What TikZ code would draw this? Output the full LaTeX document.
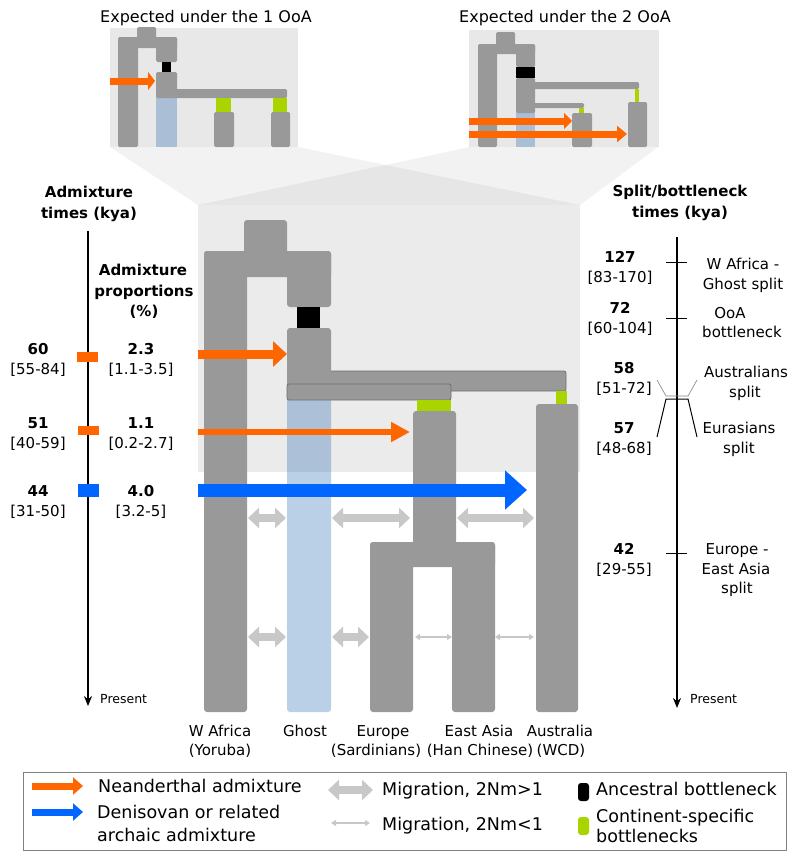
\documentclass[tikz,border=0pt]{standalone}
\usepackage{fontspec}
\setmainfont{DejaVu Sans}
\usetikzlibrary{arrows.meta}
\definecolor{popgray}{RGB}{153,153,153}
\definecolor{ghostblue}{RGB}{28,98,172}
\definecolor{neandorange}{RGB}{255,102,0}
\definecolor{denisblue}{RGB}{0,102,255}
\definecolor{miggray}{RGB}{200,200,200}
\definecolor{bottlegreen}{RGB}{170,212,0}
\definecolor{boxgray}{RGB}{235,235,235}
\definecolor{insetgray}{RGB}{232,232,232}
\definecolor{barline}{RGB}{112,112,112}

\begin{document}
\begin{tikzpicture}[x=1pt, y=-1pt,
    pop/.style={fill=popgray, rounded corners=3pt},
    minipop/.style={fill=popgray, rounded corners=1.5pt},
    popbar/.style={fill=popgray, draw=barline, line width=0.8pt, rounded corners=2pt},
    ghost/.style={fill=ghostblue, fill opacity=0.3, rounded corners=3pt},
    neck/.style={fill=black},
    contneck/.style={fill=bottlegreen},
    zoomband/.style={fill=black, fill opacity=0.05},
    neand/.style={draw=neandorange, line width=#1},
    denis/.style={draw=denisblue, line width=#1},
    migbig/.style={draw=miggray, line width=8pt, {Triangle[length=11pt,width=20pt]}-{Triangle[length=11pt,width=20pt]}},
    migsmall/.style={draw=miggray, line width=1.5pt, {Triangle[length=5pt,width=6pt]}-{Triangle[length=5pt,width=6pt]}},
    axis/.style={line width=1.5pt, -{Stealth[length=10pt,width=8pt]}},
    lbl/.style={font=\fontsize{15}{18}\selectfont, anchor=base, inner sep=0pt},
    num/.style={lbl, font=\fontsize{15}{18}\selectfont\bfseries},
    title/.style={lbl, font=\fontsize{16}{19}\selectfont},
    legtext/.style={font=\fontsize{17.5}{21}\selectfont, anchor=base west, inner sep=0pt},
    present/.style={font=\fontsize{12.5}{15}\selectfont, anchor=base west, inner sep=0pt}
  ]
  \useasboundingbox (0,0) rectangle (800,862);

  % zoom bands and boxes
  \fill[zoomband] (110,147) -- (298,147) -- (580,205) -- (198,205) -- cycle;
  \fill[zoomband] (470,147) -- (658,147) -- (580,205) -- (198,205) -- cycle;
  \fill[insetgray] (110,28) rectangle (298,147);
  \fill[insetgray] (469,30) rectangle (659,147);
  \fill[boxgray] (198,205) rectangle (580,472);

  \node[title] (oneooa) at (206,23) {Expected under the 1 OoA};
  \node[title] (twoooa) at (565,23) {Expected under the 2 OoA};

  % inset: 1 OoA
  \fill[ghost, rounded corners=0pt] (156,95) rectangle (177,147);
  \fill[minipop] (137,27) rectangle (156,40);
  \fill[minipop] (118,37) rectangle (177,48);
  \fill[minipop] (118,37) rectangle (138,147);
  \fill[minipop] (156,37) rectangle (177,62);
  \fill[neck] (162,62) rectangle (171,72);
  \fill[minipop] (156,72) rectangle (177,98);
  \fill[minipop] (170,89) rectangle (287,98);
  \fill[contneck] (216,98) rectangle (231,112);
  \fill[contneck] (273,98) rectangle (287,112);
  \fill[minipop] (214,112) rectangle (234,147);
  \fill[minipop] (271,112) rectangle (290,147);
  \coordinate (a1s) at (110,81);
  \coordinate (a1e) at (155,81);
  \draw[neand=7pt, -{Triangle[length=7pt,width=18pt]}] (a1s) -- (a1e);

  % inset: 2 OoA
  \fill[ghost, rounded corners=0pt] (516,110) rectangle (535,147);
  \fill[minipop] (496,32) rectangle (515,47);
  \fill[minipop] (478,44) rectangle (535,54);
  \fill[minipop] (478,44) rectangle (497,147);
  \fill[minipop] (516,44) rectangle (535,67);
  \fill[neck] (516,67) rectangle (535,78);
  \fill[minipop] (516,78) rectangle (535,113);
  \fill[minipop] (530,82) rectangle (639,89);
  \fill[contneck] (635,89) rectangle (639,102);
  \fill[minipop] (628,102) rectangle (647,147);
  \fill[minipop] (530,103) rectangle (584,108);
  \fill[contneck] (579,108) rectangle (584,113);
  \fill[minipop] (572,113) rectangle (592,147);
  \coordinate (b1s) at (469,121);
  \coordinate (b1e) at (572,121);
  \coordinate (b2s) at (469,134);
  \coordinate (b2e) at (627,134);
  \draw[neand=7pt, -{Triangle[length=8pt,width=16pt]}] (b1s) -- (b1e);
  \draw[neand=7pt, -{Triangle[length=10pt,width=16pt]}] (b2s) -- (b2e);

  % main tree
  \fill[ghost] (287,395) rectangle (331,712);
  \fill[pop] (244,220) rectangle (287,256);
  \fill[pop] (204,251) rectangle (331,277);
  \fill[pop] (204,251) rectangle (247,712);
  \fill[pop] (287,251) rectangle (331,307);
  \fill[neck] (297,307) rectangle (320,328);
  \filldraw[popbar] (325,371) rectangle (566,391);
  \fill[pop] (287,328) rectangle (331,395);
  \filldraw[popbar] (287,384) rectangle (451,400);
  \fill[contneck] (417,400) rectangle (451,413);
  \fill[contneck] (556,391) rectangle (567,404);
  \fill[pop] (413,411) rectangle (456,555);
  \fill[pop] (370,542) rectangle (495,567);
  \fill[pop] (370,542) rectangle (413,712);
  \fill[pop] (452,542) rectangle (495,712);
  \fill[pop] (536,404) rectangle (578,712);

  % admixture
  \coordinate (m1s) at (198,354);
  \coordinate (m1e) at (287,354);
  \coordinate (m2s) at (198,432);
  \coordinate (m2e) at (410,432);
  \coordinate (m3s) at (198,490);
  \coordinate (m3e) at (527,490);
  \draw[neand=9pt, -{Triangle[length=14pt,width=25pt]}] (m1s) -- (m1e);
  \draw[neand=6.5pt, -{Triangle[length=19pt,width=19pt]}] (m2s) -- (m2e);
  \draw[denis=13pt, -{Triangle[length=22pt,width=38pt]}] (m3s) -- (m3e);

  % migration
  \draw[migbig] (248,518) -- (286,518);
  \draw[migbig] (332,518) -- (410,518);
  \draw[migbig] (457,518) -- (534,518);
  \draw[migbig] (248,637) -- (286,637);
  \draw[migbig] (332,637) -- (369,637);
  \draw[migsmall] (415,637) -- (452,637);
  \draw[migsmall] (495,637) -- (534,637);

  % population names
  \node[lbl] (wafr) at (220,736) {W Africa};
  \node[lbl] (yor) at (220,755) {(Yoruba)};
  \node[lbl] (gho) at (305,736) {Ghost};
  \node[lbl] (eur) at (383,736) {Europe};
  \node[lbl] (sar) at (376,755) {(Sardinians)};
  \node[lbl] (eas) at (479,736) {East Asia};
  \node[lbl] (han) at (480,755) {(Han Chinese)};
  \node[lbl] (aus) at (560,736) {Australia};
  \node[lbl] (wcd) at (561,755) {(WCD)};

  % left axis
  \coordinate (ltop) at (88,231);
  \coordinate (lbot) at (88,706);
  \draw[axis] (ltop) -- (lbot);
  \node[present] (lpres) at (100,703) {Present};
  \node[num] (admt1) at (89,197) {Admixture};
  \node[num] (admt2) at (89,218) {times (kya)};
  \node[num] (admp1) at (143,275) {Admixture};
  \node[num] (admp2) at (144,296) {proportions};
  \node[num] (admp3) at (144,316) {(\%)};
  \fill[neandorange] (77,352) rectangle (98,362);
  \fill[neandorange] (78,426) rectangle (99,435);
  \fill[denisblue] (78,484) rectangle (99,497);
  \node[num] (t60) at (38,354) {60};
  \node[lbl] (r60) at (38,374) {[55-84]};
  \node[num] (t51) at (38,428) {51};
  \node[lbl] (r51) at (38,448) {[40-59]};
  \node[num] (t44) at (38,496) {44};
  \node[lbl] (r44) at (38,516) {[31-50]};
  \node[num] (p23) at (141,354) {2.3};
  \node[lbl] (q23) at (141,374) {[1.1-3.5]};
  \node[num] (p11) at (141,428) {1.1};
  \node[lbl] (q11) at (141,448) {[0.2-2.7]};
  \node[num] (p40) at (141,496) {4.0};
  \node[lbl] (q40) at (141,516) {[3.2-5]};

  % right axis
  \coordinate (rtop) at (677,237);
  \coordinate (rbot) at (677,708);
  \draw[axis] (rtop) -- (rbot);
  \node[present] (rpres) at (690,703) {Present};
  \node[num] (spl1) at (680,196) {Split/bottleneck};
  \node[num] (spl2) at (680,217) {times (kya)};
  \draw[line width=1pt] (666,262) -- (687,262);
  \draw[line width=1pt] (666,318) -- (687,318);
  \draw[line width=1pt] (666,553) -- (687,553);
  \draw[line width=0.6pt, gray] (657,380) -- (666,396) -- (688,396) -- (697,380);
  \draw[line width=1pt] (657,437) -- (666,399) -- (688,399) -- (697,437);
  \node[num] (s127) at (620,262) {127};
  \node[lbl] (c127) at (620,282) {[83-170]};
  \node[num] (s72) at (620,313) {72};
  \node[lbl] (c72) at (620,333) {[60-104]};
  \node[num] (s58) at (624,373) {58};
  \node[lbl] (c58) at (624,393) {[51-72]};
  \node[num] (s57) at (624,433) {57};
  \node[lbl] (c57) at (624,453) {[48-68]};
  \node[num] (s42) at (624,554) {42};
  \node[lbl] (c42) at (624,574) {[29-55]};
  \node[lbl] (e127a) at (743,269) {W Africa -};
  \node[lbl] (e127b) at (743,289) {Ghost split};
  \node[lbl] (e72a) at (730,318) {OoA};
  \node[lbl] (e72b) at (742,337) {bottleneck};
  \node[lbl] (e58a) at (746,377) {Australians};
  \node[lbl] (e58b) at (745,397) {split};
  \node[lbl] (e57a) at (739,433) {Eurasians};
  \node[lbl] (e57b) at (739,453) {split};
  \node[lbl] (e42a) at (737,554) {Europe -};
  \node[lbl] (e42b) at (736,574) {East Asia};
  \node[lbl] (e42c) at (737,593) {split};

  % legend
  \draw[draw=gray, line width=1pt] (23,772) rectangle (786,850);
  \coordinate (k1s) at (32,786);
  \coordinate (k1e) at (83,786);
  \coordinate (k2s) at (32,812);
  \coordinate (k2e) at (83,812);
  \coordinate (k3s) at (328,790);
  \coordinate (k3e) at (373,790);
  \coordinate (k4s) at (331,823);
  \coordinate (k4e) at (370,823);
  \draw[neand=7pt, -{Triangle[length=10pt,width=17pt]}] (k1s) -- (k1e);
  \draw[denis=7pt, -{Triangle[length=10pt,width=17pt]}] (k2s) -- (k2e);
  \draw[migbig] (k3s) -- (k3e);
  \draw[migsmall] (k4s) -- (k4e);
  \fill[black, rounded corners=3pt] (578,783) rectangle (589,801);
  \fill[bottlegreen, rounded corners=3pt] (578,817) rectangle (589,835);
  \node[legtext] (lneand) at (98,792) {Neanderthal admixture};
  \node[legtext] (ldenis1) at (97,818) {Denisovan or related};
  \node[legtext] (ldenis2) at (97,841) {archaic admixture};
  \node[legtext] (lmig1) at (382,795) {Migration, 2Nm>1};
  \node[legtext] (lmig2) at (382,830) {Migration, 2Nm<1};
  \node[legtext] (lanc) at (596,795) {Ancestral bottleneck};
  \node[legtext] (lcont1) at (596,822) {Continent-specific};
  \node[legtext] (lcont2) at (596,842) {bottlenecks};
\end{tikzpicture}
\end{document}
